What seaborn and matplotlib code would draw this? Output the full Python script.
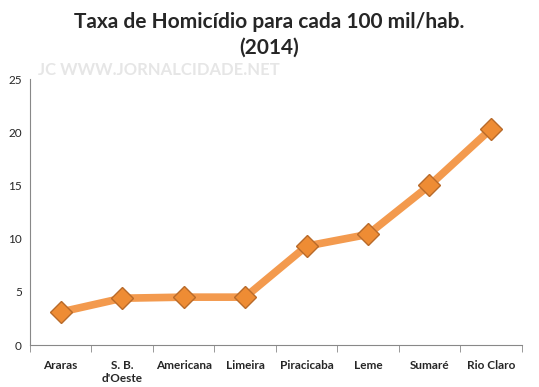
import pandas as pd
import seaborn as sns
import matplotlib.pyplot as plt

cidades = ["Araras", "S. B.\nd'Oeste", "Americana", "Limeira", "Piracicaba", "Leme", "Sumaré", "Rio Claro"]
taxa = [3.1, 4.4, 4.5, 4.5, 9.3, 10.4, 15.0, 20.3]

df = pd.DataFrame({"cidade": cidades, "taxa": taxa})

sns.set_style("white")
plt.rcParams["font.family"] = ["Lato", "DejaVu Sans"]

fig = plt.figure(figsize=(5.39, 3.87), dpi=100)
ax = fig.add_axes([0.0557, 0.1085, 0.912, 0.687])

sns.lineplot(data=df, x="cidade", y="taxa", sort=False, ax=ax,
             color="#F39A4E", linewidth=5.5, marker="D", markersize=11,
             markerfacecolor="#EE8C34", markeredgecolor="#B86A2A", markeredgewidth=1)

ax.set_xlim(-0.5, 7.5)
ax.set_ylim(0, 25)
ax.set_yticks(range(0, 26, 5))
ax.set_xlabel("")
ax.set_ylabel("")
ax.set_xticks(range(len(cidades)))
ax.set_xticklabels(cidades, fontweight="bold", fontsize=8.5)
ax.set_xticks([i + 0.5 for i in range(-1, len(cidades))], minor=True)
ax.tick_params(axis="x", which="major", length=0, pad=11)
ax.tick_params(axis="x", which="minor", length=5, color="#888888", direction="out", bottom=True)
ax.tick_params(axis="y", labelsize=8.5, length=0, pad=6)
for side in ["top", "right"]:
    ax.spines[side].set_visible(False)
ax.spines["left"].set_color("#888888")
ax.spines["bottom"].set_color("#888888")

fig.text(0.5, 0.91, "Taxa de Homicídio para cada 100 mil/hab.\n(2014)", ha="center", va="center",
         fontsize=15, fontweight="bold", linespacing=1.35)
fig.text(0.07, 0.82, "JC WWW.JORNALCIDADE.NET", fontsize=12, color="#e6e6e6", fontweight="bold", va="center")

fig.savefig("out.png", dpi=100)
